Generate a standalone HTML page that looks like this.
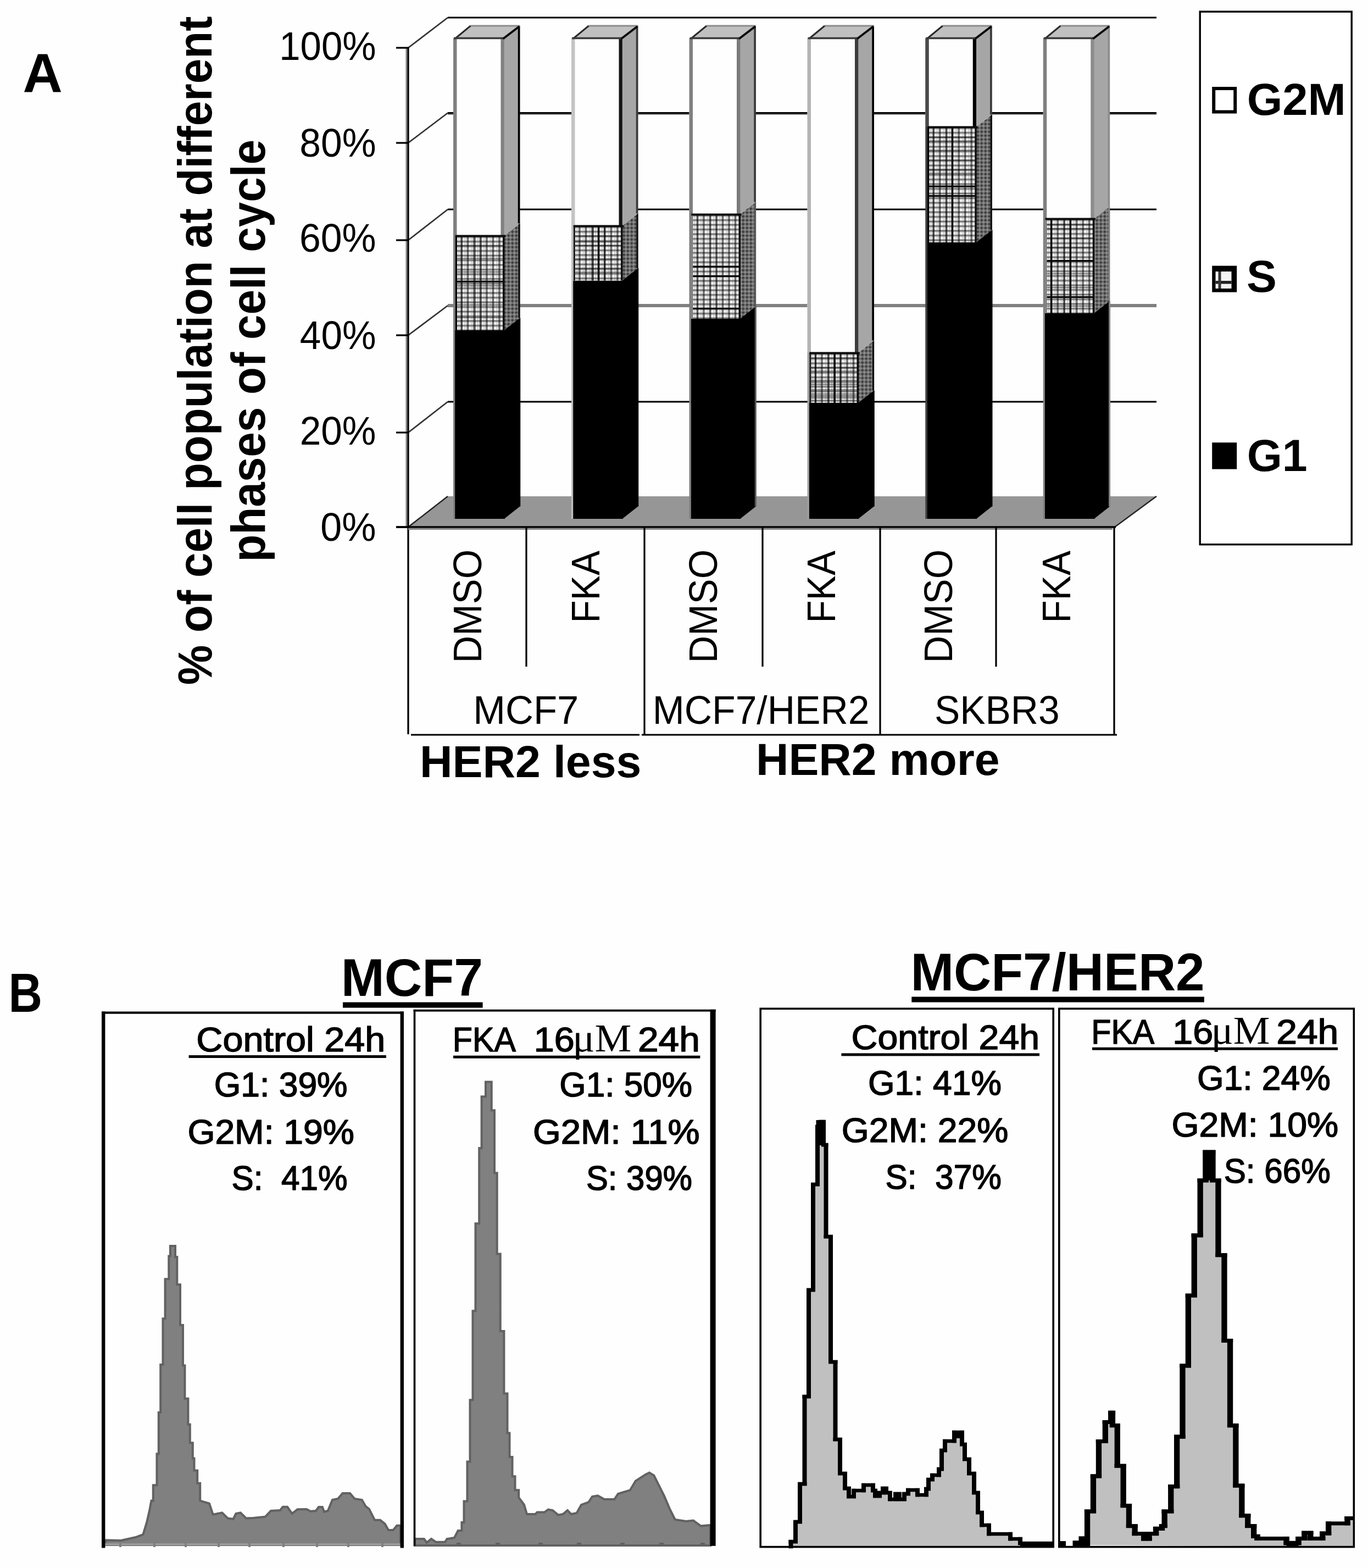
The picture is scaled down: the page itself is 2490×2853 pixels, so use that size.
<!DOCTYPE html>
<html lang="en">
<head>
<meta charset="utf-8">
<title>Cell cycle distribution</title>
<style>
html,body{margin:0;padding:0;background:#fff;}
body{width:2490px;height:2853px;overflow:hidden;}
svg{display:block;position:absolute;left:0;top:0;}
text{fill:#000;}
</style>
</head>
<body>
<svg width="2490" height="2853" viewBox="0 0 2490 2853">
<rect width="2490" height="2853" fill="#fefefe"/>
<defs>
<pattern id="pS" width="11.5" height="8.5" patternUnits="userSpaceOnUse">
<rect width="11.5" height="8.5" fill="#fff"/>
<rect x="0" y="0" width="11.5" height="4.4" fill="#000" fill-opacity="0.27"/>
<rect x="0" y="1" width="11.5" height="2" fill="#000" fill-opacity="0.36"/>
<rect x="8" y="4.4" width="3.5" height="4.1" fill="#000" fill-opacity="0.08"/>
<rect x="0" y="0" width="4.8" height="8.5" fill="#000" fill-opacity="0.26"/>
<rect x="1.4" y="0" width="2.2" height="8.5" fill="#000" fill-opacity="0.5"/>
<rect x="8" y="0" width="1.4" height="8.5" fill="#000" fill-opacity="0.14"/>
</pattern>
<pattern id="pD" width="7" height="7" patternUnits="userSpaceOnUse">
<rect width="7" height="7" fill="#6e6e6e"/>
<rect x="0" y="0" width="3.5" height="3.5" fill="#3c3c3c"/>
<rect x="3.5" y="3.5" width="3.5" height="3.5" fill="#8e8e8e"/>
</pattern>
</defs>
<line x1="815" y1="32" x2="2105" y2="32" stroke="#000" stroke-width="3.2"/>
<line x1="815" y1="205.5" x2="2105" y2="205.5" stroke="#000" stroke-width="3.2"/>
<line x1="815" y1="208.1" x2="2105" y2="208.1" stroke="#808080" stroke-width="2"/>
<line x1="815" y1="381" x2="2105" y2="381" stroke="#000" stroke-width="3.2"/>
<line x1="815" y1="556" x2="2105" y2="556" stroke="#808080" stroke-width="6"/>
<line x1="815" y1="731" x2="2105" y2="731" stroke="#000" stroke-width="3.2"/>
<line x1="743" y1="87" x2="815" y2="32" stroke="#333" stroke-width="2.7"/>
<line x1="743" y1="260" x2="815" y2="205.5" stroke="#333" stroke-width="2.7"/>
<line x1="743" y1="437" x2="815" y2="381" stroke="#333" stroke-width="2.7"/>
<line x1="743" y1="610" x2="815" y2="556" stroke="#333" stroke-width="2.7"/>
<line x1="743" y1="787" x2="815" y2="731" stroke="#333" stroke-width="2.7"/>
<polygon points="743,959 815,903 2105,903 2029,959" fill="#969696"/>
<line x1="743" y1="959" x2="815" y2="903" stroke="#222" stroke-width="2.5"/>
<line x1="2029" y1="959" x2="2105" y2="903" stroke="#222" stroke-width="2.5"/>
<line x1="740" y1="86" x2="740" y2="958" stroke="#808080" stroke-width="3"/>
<line x1="743" y1="86" x2="743" y2="1336" stroke="#000" stroke-width="3.2"/>
<line x1="721" y1="87" x2="744" y2="87" stroke="#000" stroke-width="3.2"/>
<line x1="721" y1="260" x2="744" y2="260" stroke="#000" stroke-width="3.2"/>
<line x1="721" y1="437" x2="744" y2="437" stroke="#000" stroke-width="3.2"/>
<line x1="721" y1="610" x2="744" y2="610" stroke="#000" stroke-width="3.2"/>
<line x1="721" y1="787" x2="744" y2="787" stroke="#000" stroke-width="3.2"/>
<line x1="721" y1="959" x2="744" y2="959" stroke="#000" stroke-width="3.2"/>
<rect x="828" y="601" width="90.75" height="343" fill="#000"/>
<polygon points="917.15,600.5 946.25,577.5 946.25,921.5 917.15,944.5" fill="#000"/>
<rect x="825" y="601" width="3.2" height="343" fill="#808080"/>
<rect x="944.25" y="578.5" width="3" height="343" fill="#000"/>
<g transform="translate(826,429)"><rect x="3" y="0" width="89.35" height="172" fill="url(#pS)"/></g>
<rect x="830.0" y="510.7" width="86.8" height="3.2" fill="#080808"/>
<rect x="830.0" y="445.5" width="86.8" height="2.6" fill="#000" fill-opacity="0.42"/>
<rect x="830.0" y="469.1" width="86.8" height="2.6" fill="#000" fill-opacity="0.42"/>
<rect x="830.0" y="493.6" width="86.8" height="2.6" fill="#000" fill-opacity="0.42"/>
<rect x="830.0" y="518.7" width="86.8" height="2.6" fill="#000" fill-opacity="0.42"/>
<rect x="830.0" y="553.5" width="86.8" height="2.6" fill="#000" fill-opacity="0.42"/>
<rect x="830.0" y="576.5" width="86.8" height="2.6" fill="#000" fill-opacity="0.42"/>
<rect x="839.4" y="429.0" width="2.6" height="172.0" fill="#000" fill-opacity="0.42"/>
<rect x="863.4" y="429.0" width="2.6" height="172.0" fill="#000" fill-opacity="0.42"/>
<rect x="874.2" y="429.0" width="2.6" height="172.0" fill="#000" fill-opacity="0.42"/>
<polygon points="917.15,429.5 946.25,406.5 946.25,578.5 917.15,601.5" fill="url(#pD)"/>
<rect x="825" y="429" width="4" height="172" fill="#808080"/>
<rect x="828.8" y="429" width="3.2" height="172" fill="#000"/>
<rect x="915.1" y="429" width="3.4" height="172" fill="#0c0c0c"/>
<rect x="943.25" y="406.5" width="3.4" height="172" fill="#101010"/>
<rect x="825" y="69.5" width="92.75" height="359.5" fill="#fefefe"/>
<polygon points="917.15,70.0 946.25,47.0 946.25,406.5 917.15,429.5" fill="#a6a6a6"/>
<rect x="825" y="69.5" width="6.5" height="359.5" fill="#808080"/>
<rect x="911.5" y="69.5" width="6.25" height="359.5" fill="#808080"/>
<rect x="942.75" y="47.0" width="3.7" height="359.5" fill="#000"/>
<rect x="828.8" y="427.5" width="91.35" height="3.8" fill="#0c0c0c"/>
<polygon points="828,69.5 856.5,47.0 946.25,47.0 916.75,69.5" fill="#c0c0c0"/>
<line x1="856.5" y1="47.0" x2="946.25" y2="47.0" stroke="#8c8c8c" stroke-width="3"/>
<line x1="828" y1="70.5" x2="856.5" y2="47.0" stroke="#2a2a2a" stroke-width="3"/>
<line x1="826" y1="69.5" x2="917.75" y2="69.5" stroke="#3a3a3a" stroke-width="3.6"/>
<line x1="915.75" y1="70.5" x2="945.25" y2="48.0" stroke="#0a0a0a" stroke-width="4"/>
<rect x="1043" y="510.5" width="90.75" height="433.5" fill="#000"/>
<polygon points="1132.15,510.0 1161.25,487.0 1161.25,921.5 1132.15,944.5" fill="#000"/>
<rect x="1040" y="510.5" width="3.2" height="433.5" fill="#c0c0c0"/>
<rect x="1159.25" y="488.0" width="3" height="433.5" fill="#000"/>
<g transform="translate(1041,411)"><rect x="3" y="0" width="89.35" height="99.5" fill="url(#pS)"/></g>
<rect x="1045.0" y="428.0" width="86.8" height="2.6" fill="#000" fill-opacity="0.42"/>
<rect x="1045.0" y="438.7" width="86.8" height="2.6" fill="#000" fill-opacity="0.42"/>
<rect x="1045.0" y="445.8" width="86.8" height="2.6" fill="#000" fill-opacity="0.42"/>
<rect x="1045.0" y="470.0" width="86.8" height="2.6" fill="#000" fill-opacity="0.42"/>
<rect x="1045.0" y="486.9" width="86.8" height="2.6" fill="#000" fill-opacity="0.42"/>
<rect x="1045.0" y="494.1" width="86.8" height="2.6" fill="#000" fill-opacity="0.42"/>
<rect x="1078.1" y="411.0" width="2.6" height="99.5" fill="#000" fill-opacity="0.63"/>
<rect x="1088.0" y="411.0" width="3.2" height="99.5" fill="#080808"/>
<rect x="1099.1" y="411.0" width="2.6" height="99.5" fill="#000" fill-opacity="0.63"/>
<polygon points="1132.15,411.5 1161.25,388.5 1161.25,488.0 1132.15,511.0" fill="url(#pD)"/>
<rect x="1040" y="411" width="4" height="99.5" fill="#c0c0c0"/>
<rect x="1043.8" y="411" width="3.2" height="99.5" fill="#222"/>
<rect x="1130.1" y="411" width="3.4" height="99.5" fill="#0c0c0c"/>
<rect x="1158.25" y="388.5" width="3.4" height="99.5" fill="#101010"/>
<rect x="1040" y="69.5" width="92.75" height="341.5" fill="#fefefe"/>
<polygon points="1132.15,70.0 1161.25,47.0 1161.25,388.5 1132.15,411.5" fill="#a6a6a6"/>
<rect x="1040" y="69.5" width="6.5" height="341.5" fill="#c4c4c4"/>
<rect x="1126.5" y="69.5" width="6.25" height="341.5" fill="#141414"/>
<rect x="1157.75" y="47.0" width="3.7" height="341.5" fill="#3a3a3a"/>
<rect x="1043.8" y="409.5" width="91.35" height="3.8" fill="#0c0c0c"/>
<polygon points="1043,69.5 1071.5,47.0 1161.25,47.0 1131.75,69.5" fill="#c0c0c0"/>
<line x1="1071.5" y1="47.0" x2="1161.25" y2="47.0" stroke="#8c8c8c" stroke-width="3"/>
<line x1="1043" y1="70.5" x2="1071.5" y2="47.0" stroke="#2a2a2a" stroke-width="3"/>
<line x1="1041" y1="69.5" x2="1132.75" y2="69.5" stroke="#3a3a3a" stroke-width="3.6"/>
<line x1="1130.75" y1="70.5" x2="1160.25" y2="48.0" stroke="#0a0a0a" stroke-width="4"/>
<rect x="1257.5" y="580" width="90.75" height="364" fill="#000"/>
<polygon points="1346.65,579.5 1375.75,556.5 1375.75,921.5 1346.65,944.5" fill="#000"/>
<rect x="1254.5" y="580" width="3.2" height="364" fill="#808080"/>
<rect x="1373.75" y="557.5" width="3" height="364" fill="#585858"/>
<g transform="translate(1255.5,390)"><rect x="3" y="0" width="89.35" height="190" fill="url(#pS)"/></g>
<rect x="1259.5" y="483.6" width="86.8" height="3.2" fill="#080808"/>
<rect x="1259.5" y="500.9" width="86.8" height="3.2" fill="#080808"/>
<rect x="1259.5" y="559.8" width="86.8" height="3.2" fill="#080808"/>
<rect x="1268.4" y="390.0" width="2.6" height="190.0" fill="#000" fill-opacity="0.25"/>
<rect x="1292.0" y="390.0" width="2.6" height="190.0" fill="#000" fill-opacity="0.25"/>
<rect x="1303.2" y="390.0" width="2.6" height="190.0" fill="#000" fill-opacity="0.25"/>
<polygon points="1346.65,390.5 1375.75,367.5 1375.75,557.5 1346.65,580.5" fill="url(#pD)"/>
<rect x="1254.5" y="390" width="4" height="190" fill="#808080"/>
<rect x="1258.3" y="390" width="3.2" height="190" fill="#808080"/>
<rect x="1344.6" y="390" width="3.4" height="190" fill="#0c0c0c"/>
<rect x="1372.75" y="367.5" width="3.4" height="190" fill="#585858"/>
<rect x="1254.5" y="69.5" width="92.75" height="320.5" fill="#fefefe"/>
<polygon points="1346.65,70.0 1375.75,47.0 1375.75,367.5 1346.65,390.5" fill="#a6a6a6"/>
<rect x="1254.5" y="69.5" width="6.5" height="320.5" fill="#808080"/>
<rect x="1341.0" y="69.5" width="6.25" height="320.5" fill="#7a7a7a"/>
<rect x="1372.25" y="47.0" width="3.7" height="320.5" fill="#3a3a3a"/>
<rect x="1258.3" y="388.5" width="91.35" height="3.8" fill="#0c0c0c"/>
<polygon points="1257.5,69.5 1286.0,47.0 1375.75,47.0 1346.25,69.5" fill="#c0c0c0"/>
<line x1="1286.0" y1="47.0" x2="1375.75" y2="47.0" stroke="#8c8c8c" stroke-width="3"/>
<line x1="1257.5" y1="70.5" x2="1286.0" y2="47.0" stroke="#2a2a2a" stroke-width="3"/>
<line x1="1255.5" y1="69.5" x2="1347.25" y2="69.5" stroke="#3a3a3a" stroke-width="3.6"/>
<line x1="1345.25" y1="70.5" x2="1374.75" y2="48.0" stroke="#0a0a0a" stroke-width="4"/>
<rect x="1472.5" y="733" width="90.75" height="211" fill="#000"/>
<polygon points="1561.65,732.5 1590.75,709.5 1590.75,921.5 1561.65,944.5" fill="#000"/>
<rect x="1469.5" y="733" width="3.2" height="211" fill="#a0a0a0"/>
<rect x="1588.75" y="710.5" width="3" height="211" fill="#000"/>
<g transform="translate(1470.5,642)"><rect x="3" y="0" width="89.35" height="91" fill="url(#pS)"/></g>
<rect x="1474.5" y="650.0" width="86.8" height="2.6" fill="#000" fill-opacity="0.42"/>
<rect x="1474.5" y="667.4" width="86.8" height="2.6" fill="#000" fill-opacity="0.42"/>
<rect x="1474.5" y="674.1" width="86.8" height="2.6" fill="#000" fill-opacity="0.42"/>
<rect x="1474.5" y="691.0" width="86.8" height="2.6" fill="#000" fill-opacity="0.42"/>
<rect x="1474.5" y="698.2" width="86.8" height="2.6" fill="#000" fill-opacity="0.42"/>
<rect x="1474.5" y="708.0" width="86.8" height="2.6" fill="#000" fill-opacity="0.42"/>
<rect x="1474.5" y="715.6" width="86.8" height="2.6" fill="#000" fill-opacity="0.42"/>
<rect x="1474.5" y="722.7" width="86.8" height="2.6" fill="#000" fill-opacity="0.42"/>
<rect x="1483.1" y="642.0" width="2.6" height="91.0" fill="#000" fill-opacity="0.63"/>
<rect x="1507.2" y="642.0" width="2.6" height="91.0" fill="#000" fill-opacity="0.42"/>
<rect x="1517.6" y="642.0" width="3.2" height="91.0" fill="#080808"/>
<rect x="1528.2" y="642.0" width="2.6" height="91.0" fill="#000" fill-opacity="0.63"/>
<polygon points="1561.65,642.5 1590.75,619.5 1590.75,710.5 1561.65,733.5" fill="url(#pD)"/>
<rect x="1469.5" y="642" width="4" height="91" fill="#a0a0a0"/>
<rect x="1473.3" y="642" width="3.2" height="91" fill="#222"/>
<rect x="1559.6" y="642" width="3.4" height="91" fill="#0c0c0c"/>
<rect x="1587.75" y="619.5" width="3.4" height="91" fill="#101010"/>
<rect x="1469.5" y="69.5" width="92.75" height="572.5" fill="#fefefe"/>
<polygon points="1561.65,70.0 1590.75,47.0 1590.75,619.5 1561.65,642.5" fill="#a6a6a6"/>
<rect x="1469.5" y="69.5" width="6.5" height="572.5" fill="#b4b4b4"/>
<rect x="1556.0" y="69.5" width="6.25" height="572.5" fill="#3c3c3c"/>
<rect x="1587.25" y="47.0" width="3.7" height="572.5" fill="#000"/>
<rect x="1473.3" y="640.5" width="91.35" height="3.8" fill="#0c0c0c"/>
<polygon points="1472.5,69.5 1501.0,47.0 1590.75,47.0 1561.25,69.5" fill="#c0c0c0"/>
<line x1="1501.0" y1="47.0" x2="1590.75" y2="47.0" stroke="#8c8c8c" stroke-width="3"/>
<line x1="1472.5" y1="70.5" x2="1501.0" y2="47.0" stroke="#2a2a2a" stroke-width="3"/>
<line x1="1470.5" y1="69.5" x2="1562.25" y2="69.5" stroke="#3a3a3a" stroke-width="3.6"/>
<line x1="1560.25" y1="70.5" x2="1589.75" y2="48.0" stroke="#0a0a0a" stroke-width="4"/>
<rect x="1687.25" y="441" width="90.75" height="503" fill="#000"/>
<polygon points="1776.4,440.5 1805.5,417.5 1805.5,921.5 1776.4,944.5" fill="#000"/>
<rect x="1684.25" y="441" width="3.2" height="503" fill="#404040"/>
<rect x="1803.5" y="418.5" width="3" height="503" fill="#000"/>
<g transform="translate(1685.25,231)"><rect x="3" y="0" width="89.35" height="210" fill="url(#pS)"/></g>
<rect x="1689.2" y="337.6" width="86.8" height="3.2" fill="#080808"/>
<rect x="1689.2" y="355.0" width="86.8" height="3.2" fill="#080808"/>
<rect x="1689.2" y="290.1" width="86.8" height="2.6" fill="#000" fill-opacity="0.42"/>
<rect x="1689.2" y="248.2" width="86.8" height="2.6" fill="#000" fill-opacity="0.42"/>
<rect x="1689.2" y="255.3" width="86.8" height="2.6" fill="#000" fill-opacity="0.42"/>
<rect x="1689.2" y="272.3" width="86.8" height="2.6" fill="#000" fill-opacity="0.42"/>
<rect x="1689.2" y="307.0" width="86.8" height="2.6" fill="#000" fill-opacity="0.42"/>
<rect x="1689.2" y="314.1" width="86.8" height="2.6" fill="#000" fill-opacity="0.42"/>
<rect x="1697.8" y="231.0" width="2.6" height="210.0" fill="#000" fill-opacity="0.42"/>
<rect x="1721.9" y="231.0" width="2.6" height="210.0" fill="#000" fill-opacity="0.42"/>
<rect x="1731.8" y="231.0" width="3.2" height="210.0" fill="#080808"/>
<polygon points="1776.4,231.5 1805.5,208.5 1805.5,418.5 1776.4,441.5" fill="url(#pD)"/>
<rect x="1684.25" y="231" width="4" height="210" fill="#404040"/>
<rect x="1688.05" y="231" width="3.2" height="210" fill="#000"/>
<rect x="1774.35" y="231" width="3.4" height="210" fill="#0c0c0c"/>
<rect x="1802.5" y="208.5" width="3.4" height="210" fill="#101010"/>
<rect x="1684.25" y="69.5" width="92.75" height="161.5" fill="#fefefe"/>
<polygon points="1776.4,70.0 1805.5,47.0 1805.5,208.5 1776.4,231.5" fill="#a6a6a6"/>
<rect x="1684.25" y="69.5" width="6.5" height="161.5" fill="#4a4a4a"/>
<rect x="1770.75" y="69.5" width="6.25" height="161.5" fill="#000"/>
<rect x="1802.0" y="47.0" width="3.7" height="161.5" fill="#3a3a3a"/>
<rect x="1688.05" y="229.5" width="91.35" height="3.8" fill="#0c0c0c"/>
<polygon points="1687.25,69.5 1715.75,47.0 1805.5,47.0 1776.0,69.5" fill="#c0c0c0"/>
<line x1="1715.75" y1="47.0" x2="1805.5" y2="47.0" stroke="#8c8c8c" stroke-width="3"/>
<line x1="1687.25" y1="70.5" x2="1715.75" y2="47.0" stroke="#2a2a2a" stroke-width="3"/>
<line x1="1685.25" y1="69.5" x2="1777.0" y2="69.5" stroke="#3a3a3a" stroke-width="3.6"/>
<line x1="1775.0" y1="70.5" x2="1804.5" y2="48.0" stroke="#0a0a0a" stroke-width="4"/>
<rect x="1901.75" y="570" width="90.75" height="374" fill="#000"/>
<polygon points="1990.9,569.5 2020.0,546.5 2020.0,921.5 1990.9,944.5" fill="#000"/>
<rect x="1898.75" y="570" width="3.2" height="374" fill="#808080"/>
<rect x="2018.0" y="547.5" width="3" height="374" fill="#808080"/>
<g transform="translate(1899.75,398)"><rect x="3" y="0" width="89.35" height="172" fill="url(#pS)"/></g>
<rect x="1903.8" y="473.0" width="86.8" height="3.2" fill="#080808"/>
<rect x="1903.8" y="539.0" width="86.8" height="3.2" fill="#080808"/>
<rect x="1903.8" y="431.9" width="86.8" height="2.6" fill="#000" fill-opacity="0.42"/>
<rect x="1903.8" y="521.9" width="86.8" height="2.6" fill="#000" fill-opacity="0.42"/>
<rect x="1903.8" y="407.7" width="86.8" height="2.6" fill="#000" fill-opacity="0.42"/>
<rect x="1903.8" y="414.7" width="86.8" height="2.6" fill="#000" fill-opacity="0.42"/>
<rect x="1903.8" y="448.7" width="86.8" height="2.6" fill="#000" fill-opacity="0.42"/>
<rect x="1903.8" y="496.7" width="86.8" height="2.6" fill="#000" fill-opacity="0.42"/>
<rect x="1903.8" y="555.7" width="86.8" height="2.6" fill="#000" fill-opacity="0.42"/>
<rect x="1912.0" y="398.0" width="3.2" height="172.0" fill="#080808"/>
<rect x="1936.5" y="398.0" width="2.6" height="172.0" fill="#000" fill-opacity="0.42"/>
<rect x="1946.8" y="398.0" width="3.2" height="172.0" fill="#080808"/>
<polygon points="1990.9,398.5 2020.0,375.5 2020.0,547.5 1990.9,570.5" fill="url(#pD)"/>
<rect x="1898.75" y="398" width="4" height="172" fill="#808080"/>
<rect x="1902.55" y="398" width="3.2" height="172" fill="#808080"/>
<rect x="1988.85" y="398" width="3.4" height="172" fill="#0c0c0c"/>
<rect x="2017.0" y="375.5" width="3.4" height="172" fill="#808080"/>
<rect x="1898.75" y="69.5" width="92.75" height="328.5" fill="#fefefe"/>
<polygon points="1990.9,70.0 2020.0,47.0 2020.0,375.5 1990.9,398.5" fill="#a6a6a6"/>
<rect x="1898.75" y="69.5" width="6.5" height="328.5" fill="#808080"/>
<rect x="1985.25" y="69.5" width="6.25" height="328.5" fill="#8c8c8c"/>
<rect x="2016.5" y="47.0" width="3.7" height="328.5" fill="#8c8c8c"/>
<rect x="1902.55" y="396.5" width="91.35" height="3.8" fill="#0c0c0c"/>
<polygon points="1901.75,69.5 1930.25,47.0 2020.0,47.0 1990.5,69.5" fill="#c0c0c0"/>
<line x1="1930.25" y1="47.0" x2="2020.0" y2="47.0" stroke="#8c8c8c" stroke-width="3"/>
<line x1="1901.75" y1="70.5" x2="1930.25" y2="47.0" stroke="#2a2a2a" stroke-width="3"/>
<line x1="1899.75" y1="69.5" x2="1991.5" y2="69.5" stroke="#3a3a3a" stroke-width="3.6"/>
<line x1="1989.5" y1="70.5" x2="2019.0" y2="48.0" stroke="#0a0a0a" stroke-width="4"/>
<line x1="721" y1="959" x2="2031" y2="959" stroke="#000" stroke-width="3.4"/>
<line x1="743" y1="962.5" x2="2025" y2="962.5" stroke="#8a8a8a" stroke-width="3"/>
<line x1="958" y1="959" x2="958" y2="1213" stroke="#000" stroke-width="3.2"/>
<line x1="1173" y1="959" x2="1173" y2="1336" stroke="#000" stroke-width="3.2"/>
<line x1="1388" y1="959" x2="1388" y2="1213" stroke="#000" stroke-width="3.2"/>
<line x1="1602" y1="959" x2="1602" y2="1336" stroke="#000" stroke-width="3.2"/>
<line x1="1813" y1="959" x2="1813" y2="1213" stroke="#000" stroke-width="3.2"/>
<line x1="2028" y1="959" x2="2028" y2="1336" stroke="#000" stroke-width="3.2"/>
<line x1="748" y1="1337" x2="1164" y2="1337" stroke="#000" stroke-width="3.2"/>
<line x1="1168" y1="1337" x2="2033" y2="1337" stroke="#000" stroke-width="3.2"/>
<text transform="translate(508.23,109.10) scale(0.9511,1)" font-family="'Liberation Sans', Arial, Helvetica, sans-serif" font-size="72.5" xml:space="preserve">100%</text>
<text transform="translate(545.27,285.00) scale(0.9598,1)" font-family="'Liberation Sans', Arial, Helvetica, sans-serif" font-size="72.5" xml:space="preserve">80%</text>
<text transform="translate(544.91,458.30) scale(0.9623,1)" font-family="'Liberation Sans', Arial, Helvetica, sans-serif" font-size="72.5" xml:space="preserve">60%</text>
<text transform="translate(545.87,634.80) scale(0.9556,1)" font-family="'Liberation Sans', Arial, Helvetica, sans-serif" font-size="72.5" xml:space="preserve">40%</text>
<text transform="translate(545.73,808.50) scale(0.9565,1)" font-family="'Liberation Sans', Arial, Helvetica, sans-serif" font-size="72.5" xml:space="preserve">20%</text>
<text transform="translate(583.20,984.30) scale(0.9665,1)" font-family="'Liberation Sans', Arial, Helvetica, sans-serif" font-size="72.5" xml:space="preserve">0%</text>
<text transform="translate(876.10,1206.52) rotate(-90) scale(0.9451,1)" font-family="'Liberation Sans', Arial, Helvetica, sans-serif" font-size="73" xml:space="preserve">DMSO</text>
<text transform="translate(1091.00,1133.41) rotate(-90) scale(0.9258,1)" font-family="'Liberation Sans', Arial, Helvetica, sans-serif" font-size="73" xml:space="preserve">FKA</text>
<text transform="translate(1305.20,1206.52) rotate(-90) scale(0.9451,1)" font-family="'Liberation Sans', Arial, Helvetica, sans-serif" font-size="73" xml:space="preserve">DMSO</text>
<text transform="translate(1519.50,1133.41) rotate(-90) scale(0.9258,1)" font-family="'Liberation Sans', Arial, Helvetica, sans-serif" font-size="73" xml:space="preserve">FKA</text>
<text transform="translate(1733.30,1206.52) rotate(-90) scale(0.9451,1)" font-family="'Liberation Sans', Arial, Helvetica, sans-serif" font-size="73" xml:space="preserve">DMSO</text>
<text transform="translate(1948.20,1133.41) rotate(-90) scale(0.9258,1)" font-family="'Liberation Sans', Arial, Helvetica, sans-serif" font-size="73" xml:space="preserve">FKA</text>
<text transform="translate(861.36,1317.40) scale(0.9663,1)" font-family="'Liberation Sans', Arial, Helvetica, sans-serif" font-size="73" xml:space="preserve">MCF7</text>
<text transform="translate(1187.83,1317.40) scale(0.9538,1)" font-family="'Liberation Sans', Arial, Helvetica, sans-serif" font-size="73" xml:space="preserve">MCF7/HER2</text>
<text transform="translate(1700.88,1317.40) scale(0.9512,1)" font-family="'Liberation Sans', Arial, Helvetica, sans-serif" font-size="73" xml:space="preserve">SKBR3</text>
<text transform="translate(763.94,1414.20) scale(1.0099,1)" font-family="'Liberation Sans', Arial, Helvetica, sans-serif" font-size="81.7" font-weight="bold" xml:space="preserve">HER2 less</text>
<text transform="translate(1376.05,1410.20) scale(1.0072,1)" font-family="'Liberation Sans', Arial, Helvetica, sans-serif" font-size="81.7" font-weight="bold" xml:space="preserve">HER2 more</text>
<text transform="translate(384.70,1246.24) rotate(-90) scale(0.9288,1)" font-family="'Liberation Sans', Arial, Helvetica, sans-serif" font-size="88" font-weight="bold" xml:space="preserve">% of cell population at different</text>
<text transform="translate(482.00,1022.62) rotate(-90) scale(0.9298,1)" font-family="'Liberation Sans', Arial, Helvetica, sans-serif" font-size="88" font-weight="bold" xml:space="preserve">phases of cell cycle</text>
<text transform="translate(41.60,168.10) scale(1.0050,1)" font-family="'Liberation Sans', Arial, Helvetica, sans-serif" font-size="99.5" font-weight="bold" xml:space="preserve">A</text>
<rect x="2184.2" y="21.2" width="276" height="969.5" fill="#fff" stroke="#000" stroke-width="3.4"/>
<rect x="2209.2" y="161" width="39" height="42.5" fill="#fff" stroke="#000" stroke-width="6"/>
<rect x="2206.2" y="483.6" width="45" height="48" fill="#000"/>
<rect x="2212.5" y="494" width="29" height="31" fill="#f4f4f4"/>
<rect x="2212.5" y="511" width="29" height="5.5" fill="#222"/>
<rect x="2217.5" y="494" width="5" height="31" fill="#333"/>
<rect x="2206.2" y="805.2" width="45" height="48.4" fill="#000"/>
<text transform="translate(2269.68,209.00) scale(1.0074,1)" font-family="'Liberation Sans', Arial, Helvetica, sans-serif" font-size="82.4" font-weight="bold" xml:space="preserve">G2M</text>
<text transform="translate(2269.03,531.00) scale(0.9972,1)" font-family="'Liberation Sans', Arial, Helvetica, sans-serif" font-size="82.4" font-weight="bold" xml:space="preserve">S</text>
<text transform="translate(2269.70,856.50) scale(1.0000,1)" font-family="'Liberation Sans', Arial, Helvetica, sans-serif" font-size="82.4" font-weight="bold" xml:space="preserve">G1</text>
<text transform="translate(15.57,1840.50) scale(0.8466,1)" font-family="'Liberation Sans', Arial, Helvetica, sans-serif" font-size="100.5" font-weight="bold" xml:space="preserve">B</text>
<text transform="translate(620.63,1811.50) scale(0.9815,1)" font-family="'Liberation Sans', Arial, Helvetica, sans-serif" font-size="96.7" font-weight="bold" xml:space="preserve">MCF7</text>
<rect x="624" y="1823.6" width="254.6" height="10" fill="#000"/>
<text transform="translate(1657.46,1801.50) scale(0.9765,1)" font-family="'Liberation Sans', Arial, Helvetica, sans-serif" font-size="96.7" font-weight="bold" xml:space="preserve">MCF7/HER2</text>
<rect x="1659.3" y="1813.6" width="532.5" height="10" fill="#000"/>
<polygon points="191.8,2811 191.8,2802.4 220,2803 247,2797 260.4,2792 267,2770.6 272,2749 275.5,2730.6 278.8,2730.6 278.8,2702.2 285.5,2702.2 285.5,2645.3 288.8,2645.3 288.8,2569.9 292.2,2569.9 292.2,2482.9 296.5,2482.9 296.5,2399.2 300.6,2399.2 300.6,2327.2 307.3,2327.2 307.3,2285.4 309.9,2285.4 309.9,2267.0 319.0,2267.0 319.0,2287.0 322.3,2287.0 322.3,2337.3 328.0,2337.3 328.0,2410.9 333.0,2410.9 333.0,2484.6 336.4,2484.6 336.4,2544.8 342.4,2544.8 342.4,2591.7 345.8,2591.7 345.8,2625.2 350.8,2625.2 350.8,2653.6 353.5,2653.6 353.5,2675.4 359.2,2675.4 359.2,2698.8 364.2,2698.8 364.2,2730.6 381,2735.6 387.6,2755.7 404.3,2752.4 414.4,2762.4 424.4,2764 429.5,2754 437.8,2752.4 447.9,2762.4 461,2762 483,2759.7 493,2749 509.8,2748 514.8,2741.7 523,2741.7 531.5,2754 541.6,2746.3 558,2746 565,2749.7 575,2749 580,2742 586.8,2742 590,2750.7 596.8,2749 605,2729 615,2727 623.6,2717 637,2717 645.4,2727 658.8,2729 665.5,2740.7 672,2745.7 682,2765.8 692,2765.8 700.6,2772.5 707,2784 715.7,2784 722.4,2775.8 729,2775.8 729,2811" fill="#808080" stroke="#626262" stroke-width="4" stroke-linejoin="miter"/>
<rect x="188" y="2808" width="544" height="4" fill="#9a9a9a"/>
<rect x="217" y="2808" width="4" height="7" fill="#808080"/>
<rect x="279" y="2808" width="4" height="7" fill="#808080"/>
<rect x="336" y="2808" width="4" height="7" fill="#808080"/>
<rect x="396" y="2808" width="4" height="7" fill="#808080"/>
<rect x="452" y="2808" width="4" height="7" fill="#808080"/>
<rect x="514" y="2808" width="4" height="7" fill="#808080"/>
<rect x="575" y="2808" width="4" height="7" fill="#808080"/>
<rect x="632" y="2808" width="4" height="7" fill="#808080"/>
<rect x="694" y="2808" width="4" height="7" fill="#808080"/>
<rect x="185" y="1840.5" width="6.4" height="976" fill="#000"/>
<rect x="728.6" y="1840.5" width="6.4" height="976" fill="#000"/>
<rect x="185" y="1840.5" width="550" height="4.2" fill="#000"/>
<text transform="translate(357.37,1912.90) scale(1.0577,1)" font-family="'Liberation Sans', Arial, Helvetica, sans-serif" font-size="62.9" stroke="#000" stroke-width="1.5" stroke-linejoin="round" xml:space="preserve">Control 24h</text>
<rect x="343.6" y="1920" width="359.3" height="5" fill="#000"/>
<text transform="translate(389.78,1995.00) scale(0.9923,1)" font-family="'Liberation Sans', Arial, Helvetica, sans-serif" font-size="62.9" stroke="#000" stroke-width="1.5" stroke-linejoin="round" xml:space="preserve">G1: 39%</text>
<text transform="translate(341.39,2081.40) scale(1.0221,1)" font-family="'Liberation Sans', Arial, Helvetica, sans-serif" font-size="62.9" stroke="#000" stroke-width="1.5" stroke-linejoin="round" xml:space="preserve">G2M: 19%</text>
<text transform="translate(421.59,2165.40) scale(0.9581,1)" font-family="'Liberation Sans', Arial, Helvetica, sans-serif" font-size="62.9" stroke="#000" stroke-width="1.5" stroke-linejoin="round" xml:space="preserve">S:  41%</text>
<polygon points="755,2812 755,2800 771.8,2800 776.8,2806.8 785,2800 793.6,2805.8 810,2805.8 813.6,2800 827,2798 833.7,2785 840.4,2785.0 840.4,2769.9 844.5,2769.9 844.5,2731.4 850.5,2731.4 850.5,2659.5 855.5,2659.5 855.5,2547.3 860.5,2547.3 860.5,2385.3 865.5,2385.3 865.5,2226.2 872.2,2226.2 872.2,2089.0 876.6,2089.0 876.6,1995.2 884.0,1995.2 884.0,1968.5 894.7,1968.5 894.7,2020.3 900.0,2020.3 900.0,2134.2 904.7,2134.2 904.7,2281.5 910.7,2281.5 910.7,2422.1 917.4,2422.1 917.4,2535.6 923.5,2535.6 923.5,2607.6 927.5,2607.6 927.5,2651.1 932.5,2651.1 932.5,2686.2 937.5,2686.2 937.5,2711.3 944.2,2711.3 944.2,2724.7 954,2738 959,2755 974.4,2755 977.7,2751.5 991,2751.5 997.8,2746.5 1006,2748 1016,2756.5 1024.6,2755 1033,2748 1039.6,2755 1049.7,2753 1058,2738 1071.4,2733 1078,2723 1088,2721.4 1100,2728 1118.3,2728 1125,2718 1146.8,2711.4 1156.8,2694.6 1175,2683 1182,2679.5 1190.3,2684.6 1200.3,2704.7 1208.7,2721.4 1218.7,2744.8 1228.8,2765 1248.9,2768 1262,2766.6 1275.7,2776.6 1293,2775 1293,2812" fill="#808080" stroke="#626262" stroke-width="4" stroke-linejoin="miter"/>
<rect x="831" y="2807" width="8" height="4" fill="#606060"/>
<rect x="902" y="2807" width="8" height="4" fill="#606060"/>
<rect x="980" y="2807" width="8" height="4" fill="#606060"/>
<rect x="1050" y="2807" width="8" height="4" fill="#606060"/>
<rect x="1129" y="2807" width="8" height="4" fill="#606060"/>
<rect x="1200" y="2807" width="8" height="4" fill="#606060"/>
<rect x="1275" y="2807" width="8" height="4" fill="#606060"/>
<rect x="752.7" y="1836.8" width="3.6" height="976" fill="#000"/>
<rect x="1292.6" y="1836.8" width="10" height="976" fill="#000"/>
<rect x="752.7" y="1836.8" width="550" height="3.8" fill="#000"/>
<text transform="translate(823.87,1912.90) scale(0.9402,1)" font-family="'Liberation Sans', Arial, Helvetica, sans-serif" font-size="62.9" stroke="#000" stroke-width="1.5" stroke-linejoin="round" xml:space="preserve">FKA</text>
<text transform="translate(971.82,1912.90) scale(1.0562,1)" font-family="'Liberation Sans', Arial, Helvetica, sans-serif" font-size="62.9" stroke="#000" stroke-width="1.5" stroke-linejoin="round" xml:space="preserve">16</text>
<text transform="translate(1042.19,1912.90) scale(1.0435,1)" font-family="'Liberation Serif', 'Times New Roman', serif" font-size="72" xml:space="preserve">μM</text>
<text transform="translate(1160.91,1912.90) scale(1.0766,1)" font-family="'Liberation Sans', Arial, Helvetica, sans-serif" font-size="62.9" stroke="#000" stroke-width="1.5" stroke-linejoin="round" xml:space="preserve">24h</text>
<rect x="825" y="1920.7" width="449.3" height="5" fill="#000"/>
<text transform="translate(1018.29,1995.00) scale(0.9882,1)" font-family="'Liberation Sans', Arial, Helvetica, sans-serif" font-size="62.9" stroke="#000" stroke-width="1.5" stroke-linejoin="round" xml:space="preserve">G1: 50%</text>
<text transform="translate(969.93,2081.40) scale(1.0385,1)" font-family="'Liberation Sans', Arial, Helvetica, sans-serif" font-size="62.9" stroke="#000" stroke-width="1.5" stroke-linejoin="round" xml:space="preserve">G2M: 11%</text>
<text transform="translate(1066.91,2165.40) scale(0.9519,1)" font-family="'Liberation Sans', Arial, Helvetica, sans-serif" font-size="62.9" stroke="#000" stroke-width="1.5" stroke-linejoin="round" xml:space="preserve">S: 39%</text>
<polygon points="1439.5,2814 1439.5,2805 1448,2805 1448,2769 1456,2769 1456,2700 1464.5,2700 1464.5,2541 1472,2541 1472,2347 1480,2347 1480,2155 1488,2155 1488,2050 1494,2050 1494,2041 1499,2041 1499,2083 1503.5,2083 1503.5,2250 1512,2250 1512,2478 1520.5,2478 1520.5,2619 1529,2619 1529,2681 1538,2681 1538,2708 1545,2708 1545,2723 1554,2723 1554,2712 1572,2712 1572,2702 1589,2702 1589,2712 1593,2712 1593,2722 1601,2722 1601,2716 1607,2716 1607,2708 1613,2708 1613,2716 1620,2716 1620,2728 1630,2728 1630,2718 1637,2718 1637,2728 1646,2728 1646,2718 1653,2718 1653,2711 1670,2711 1670,2720 1686,2720 1686,2709 1690,2709 1690,2692 1697,2692 1697,2684 1709,2684 1709,2673 1714,2673 1714,2639 1720,2639 1720,2622 1737,2622 1737,2606 1751,2606 1751,2628 1756,2628 1756,2655 1764,2655 1764,2681 1773,2681 1773,2716 1780,2716 1780,2752 1787,2752 1787,2775 1800,2775 1800,2791 1839,2791 1839,2800 1857,2800 1857,2808 1915,2808 1915,2814" fill="#c0c0c0"/>
<rect x="1435.5" y="2801.8" width="8.0" height="15.5" fill="#000"/>
<rect x="1435.5" y="2801.8" width="16.5" height="6.5" fill="#000"/>
<rect x="1444.0" y="2765.8" width="8.0" height="42.5" fill="#000"/>
<rect x="1444.0" y="2765.8" width="16.0" height="6.5" fill="#000"/>
<rect x="1452.0" y="2696.8" width="8.0" height="75.5" fill="#000"/>
<rect x="1452.0" y="2696.8" width="16.5" height="6.5" fill="#000"/>
<rect x="1460.5" y="2537.8" width="8.0" height="165.5" fill="#000"/>
<rect x="1460.5" y="2537.8" width="15.5" height="6.5" fill="#000"/>
<rect x="1468.0" y="2343.8" width="8.0" height="200.5" fill="#000"/>
<rect x="1468.0" y="2343.8" width="16.0" height="6.5" fill="#000"/>
<rect x="1476.0" y="2151.8" width="8.0" height="198.5" fill="#000"/>
<rect x="1476.0" y="2151.8" width="16.0" height="6.5" fill="#000"/>
<rect x="1484.0" y="2046.8" width="8.0" height="111.5" fill="#000"/>
<rect x="1484.0" y="2046.8" width="14.0" height="6.5" fill="#000"/>
<rect x="1490.0" y="2037.8" width="8.0" height="15.5" fill="#000"/>
<rect x="1490.0" y="2037.8" width="13.0" height="6.5" fill="#000"/>
<rect x="1495.0" y="2037.8" width="8.0" height="48.5" fill="#000"/>
<rect x="1495.0" y="2079.8" width="12.5" height="6.5" fill="#000"/>
<rect x="1499.5" y="2079.8" width="8.0" height="173.5" fill="#000"/>
<rect x="1499.5" y="2246.8" width="16.5" height="6.5" fill="#000"/>
<rect x="1508.0" y="2246.8" width="8.0" height="234.5" fill="#000"/>
<rect x="1508.0" y="2474.8" width="16.5" height="6.5" fill="#000"/>
<rect x="1516.5" y="2474.8" width="8.0" height="147.5" fill="#000"/>
<rect x="1516.5" y="2615.8" width="16.5" height="6.5" fill="#000"/>
<rect x="1525.0" y="2615.8" width="8.0" height="68.5" fill="#000"/>
<rect x="1525.0" y="2677.8" width="17.0" height="6.5" fill="#000"/>
<rect x="1534.0" y="2677.8" width="8.0" height="33.5" fill="#000"/>
<rect x="1534.0" y="2704.8" width="15.0" height="6.5" fill="#000"/>
<rect x="1541.0" y="2704.8" width="8.0" height="21.5" fill="#000"/>
<rect x="1541.0" y="2719.8" width="17.0" height="6.5" fill="#000"/>
<rect x="1550.0" y="2708.8" width="8.0" height="17.5" fill="#000"/>
<rect x="1550.0" y="2708.8" width="26.0" height="6.5" fill="#000"/>
<rect x="1568.0" y="2698.8" width="8.0" height="16.5" fill="#000"/>
<rect x="1568.0" y="2698.8" width="25.0" height="6.5" fill="#000"/>
<rect x="1585.0" y="2698.8" width="8.0" height="16.5" fill="#000"/>
<rect x="1585.0" y="2708.8" width="12.0" height="6.5" fill="#000"/>
<rect x="1589.0" y="2708.8" width="8.0" height="16.5" fill="#000"/>
<rect x="1589.0" y="2718.8" width="16.0" height="6.5" fill="#000"/>
<rect x="1597.0" y="2712.8" width="8.0" height="12.5" fill="#000"/>
<rect x="1597.0" y="2712.8" width="14.0" height="6.5" fill="#000"/>
<rect x="1603.0" y="2704.8" width="8.0" height="14.5" fill="#000"/>
<rect x="1603.0" y="2704.8" width="14.0" height="6.5" fill="#000"/>
<rect x="1609.0" y="2704.8" width="8.0" height="14.5" fill="#000"/>
<rect x="1609.0" y="2712.8" width="15.0" height="6.5" fill="#000"/>
<rect x="1616.0" y="2712.8" width="8.0" height="18.5" fill="#000"/>
<rect x="1616.0" y="2724.8" width="18.0" height="6.5" fill="#000"/>
<rect x="1626.0" y="2714.8" width="8.0" height="16.5" fill="#000"/>
<rect x="1626.0" y="2714.8" width="15.0" height="6.5" fill="#000"/>
<rect x="1633.0" y="2714.8" width="8.0" height="16.5" fill="#000"/>
<rect x="1633.0" y="2724.8" width="17.0" height="6.5" fill="#000"/>
<rect x="1642.0" y="2714.8" width="8.0" height="16.5" fill="#000"/>
<rect x="1642.0" y="2714.8" width="15.0" height="6.5" fill="#000"/>
<rect x="1649.0" y="2707.8" width="8.0" height="13.5" fill="#000"/>
<rect x="1649.0" y="2707.8" width="25.0" height="6.5" fill="#000"/>
<rect x="1666.0" y="2707.8" width="8.0" height="15.5" fill="#000"/>
<rect x="1666.0" y="2716.8" width="24.0" height="6.5" fill="#000"/>
<rect x="1682.0" y="2705.8" width="8.0" height="17.5" fill="#000"/>
<rect x="1682.0" y="2705.8" width="12.0" height="6.5" fill="#000"/>
<rect x="1686.0" y="2688.8" width="8.0" height="23.5" fill="#000"/>
<rect x="1686.0" y="2688.8" width="15.0" height="6.5" fill="#000"/>
<rect x="1693.0" y="2680.8" width="8.0" height="14.5" fill="#000"/>
<rect x="1693.0" y="2680.8" width="20.0" height="6.5" fill="#000"/>
<rect x="1705.0" y="2669.8" width="8.0" height="17.5" fill="#000"/>
<rect x="1705.0" y="2669.8" width="13.0" height="6.5" fill="#000"/>
<rect x="1710.0" y="2635.8" width="8.0" height="40.5" fill="#000"/>
<rect x="1710.0" y="2635.8" width="14.0" height="6.5" fill="#000"/>
<rect x="1716.0" y="2618.8" width="8.0" height="23.5" fill="#000"/>
<rect x="1716.0" y="2618.8" width="25.0" height="6.5" fill="#000"/>
<rect x="1733.0" y="2602.8" width="8.0" height="22.5" fill="#000"/>
<rect x="1733.0" y="2602.8" width="22.0" height="6.5" fill="#000"/>
<rect x="1747.0" y="2602.8" width="8.0" height="28.5" fill="#000"/>
<rect x="1747.0" y="2624.8" width="13.0" height="6.5" fill="#000"/>
<rect x="1752.0" y="2624.8" width="8.0" height="33.5" fill="#000"/>
<rect x="1752.0" y="2651.8" width="16.0" height="6.5" fill="#000"/>
<rect x="1760.0" y="2651.8" width="8.0" height="32.5" fill="#000"/>
<rect x="1760.0" y="2677.8" width="17.0" height="6.5" fill="#000"/>
<rect x="1769.0" y="2677.8" width="8.0" height="41.5" fill="#000"/>
<rect x="1769.0" y="2712.8" width="15.0" height="6.5" fill="#000"/>
<rect x="1776.0" y="2712.8" width="8.0" height="42.5" fill="#000"/>
<rect x="1776.0" y="2748.8" width="15.0" height="6.5" fill="#000"/>
<rect x="1783.0" y="2748.8" width="8.0" height="29.5" fill="#000"/>
<rect x="1783.0" y="2771.8" width="21.0" height="6.5" fill="#000"/>
<rect x="1796.0" y="2771.8" width="8.0" height="22.5" fill="#000"/>
<rect x="1796.0" y="2787.8" width="47.0" height="6.5" fill="#000"/>
<rect x="1835.0" y="2787.8" width="8.0" height="15.5" fill="#000"/>
<rect x="1835.0" y="2796.8" width="26.0" height="6.5" fill="#000"/>
<rect x="1853.0" y="2796.8" width="8.0" height="14.5" fill="#000"/>
<rect x="1853.0" y="2804.8" width="66.0" height="6.5" fill="#000"/>
<rect x="1485.5" y="2038" width="14.5" height="46" fill="#000"/>
<rect x="1735.5" y="2603" width="17" height="14" fill="#000"/>
<rect x="1857" y="2805" width="60" height="10" fill="#000"/>
<rect x="1384.2" y="1835.3" width="533" height="979.3" fill="none" stroke="#000" stroke-width="3.6"/>
<text transform="translate(1549.59,1909.30) scale(1.0536,1)" font-family="'Liberation Sans', Arial, Helvetica, sans-serif" font-size="62.9" stroke="#000" stroke-width="1.5" stroke-linejoin="round" xml:space="preserve">Control 24h</text>
<rect x="1531.4" y="1916.4" width="360.6" height="5" fill="#000"/>
<text transform="translate(1580.08,1992.00) scale(0.9923,1)" font-family="'Liberation Sans', Arial, Helvetica, sans-serif" font-size="62.9" stroke="#000" stroke-width="1.5" stroke-linejoin="round" xml:space="preserve">G1: 41%</text>
<text transform="translate(1531.79,2078.20) scale(1.0217,1)" font-family="'Liberation Sans', Arial, Helvetica, sans-serif" font-size="62.9" stroke="#000" stroke-width="1.5" stroke-linejoin="round" xml:space="preserve">G2M: 22%</text>
<text transform="translate(1611.58,2162.90) scale(0.9595,1)" font-family="'Liberation Sans', Arial, Helvetica, sans-serif" font-size="62.9" stroke="#000" stroke-width="1.5" stroke-linejoin="round" xml:space="preserve">S:  37%</text>
<polygon points="1979.1,2811.2 1979.1,2750.0 1990.0,2750.0 1990.0,2685.9 2000.0,2685.9 2000.0,2622.5 2011.9,2622.5 2011.9,2587.5 2022.2,2587.5 2022.2,2570.3 2025.0,2570.3 2025.0,2593.8 2033.8,2593.8 2033.8,2667.2 2044.7,2667.2 2044.7,2739.7 2055.0,2739.7 2055.0,2776.6 2065.6,2776.6 2065.6,2790.6 2082.2,2790.6 2082.2,2800.0 2091.6,2800.0 2091.6,2790.6 2104.1,2790.6 2104.1,2781.2 2115.0,2781.2 2115.0,2776.6 2119.7,2776.6 2119.7,2750.0 2131.2,2750.0 2131.2,2704.7 2142.2,2704.7 2142.2,2614.1 2152.5,2614.1 2152.5,2485.0 2162.8,2485.0 2162.8,2357.2 2173.8,2357.2 2173.8,2247.8 2184.7,2247.8 2184.7,2147.8 2194.7,2147.8 2194.7,2096.2 2207.2,2096.2 2207.2,2147.8 2217.5,2147.8 2217.5,2283.8 2228.4,2283.8 2228.4,2439.4 2239.1,2439.4 2239.1,2593.8 2249.4,2593.8 2249.4,2703.1 2260.3,2703.1 2260.3,2757.8 2271.2,2757.8 2271.2,2776.6 2282.2,2776.6 2282.2,2795.3 2288.4,2795.3 2288.4,2799.4 2341.6,2799.4 2341.6,2807.8 2363.4,2807.8 2363.4,2799.4 2374.4,2799.4 2374.4,2789.1 2385.3,2789.1 2385.3,2799.4 2407.2,2799.4 2407.2,2790.0 2418.1,2790.0 2418.1,2771.9 2452.5,2771.9 2452.5,2762.5 2462.5,2762.5 2462.5,2814.1" fill="#c0c0c0"/>
<rect x="1973.9" y="2746.5" width="10.3" height="68.2" fill="#000"/>
<rect x="1973.9" y="2746.5" width="21.2" height="7.0" fill="#000"/>
<rect x="1984.8" y="2682.4" width="10.3" height="71.1" fill="#000"/>
<rect x="1984.8" y="2682.4" width="20.3" height="7.0" fill="#000"/>
<rect x="1994.8" y="2619.0" width="10.3" height="70.4" fill="#000"/>
<rect x="1994.8" y="2619.0" width="22.2" height="7.0" fill="#000"/>
<rect x="2006.7" y="2584.0" width="10.3" height="42.0" fill="#000"/>
<rect x="2006.7" y="2584.0" width="20.6" height="7.0" fill="#000"/>
<rect x="2017.0" y="2566.8" width="10.3" height="24.2" fill="#000"/>
<rect x="2017.0" y="2566.8" width="13.1" height="7.0" fill="#000"/>
<rect x="2019.8" y="2566.8" width="10.3" height="30.4" fill="#000"/>
<rect x="2019.8" y="2590.2" width="19.1" height="7.0" fill="#000"/>
<rect x="2028.6" y="2590.2" width="10.3" height="80.4" fill="#000"/>
<rect x="2028.6" y="2663.7" width="21.2" height="7.0" fill="#000"/>
<rect x="2039.5" y="2663.7" width="10.3" height="79.5" fill="#000"/>
<rect x="2039.5" y="2736.2" width="20.6" height="7.0" fill="#000"/>
<rect x="2049.8" y="2736.2" width="10.3" height="43.9" fill="#000"/>
<rect x="2049.8" y="2773.1" width="20.9" height="7.0" fill="#000"/>
<rect x="2060.5" y="2773.1" width="10.3" height="21.1" fill="#000"/>
<rect x="2060.5" y="2787.1" width="26.9" height="7.0" fill="#000"/>
<rect x="2077.0" y="2787.1" width="10.3" height="16.4" fill="#000"/>
<rect x="2077.0" y="2796.5" width="19.7" height="7.0" fill="#000"/>
<rect x="2086.4" y="2787.1" width="10.3" height="16.4" fill="#000"/>
<rect x="2086.4" y="2787.1" width="22.8" height="7.0" fill="#000"/>
<rect x="2098.9" y="2777.8" width="10.3" height="16.4" fill="#000"/>
<rect x="2098.9" y="2777.8" width="21.2" height="7.0" fill="#000"/>
<rect x="2109.8" y="2773.1" width="10.3" height="11.7" fill="#000"/>
<rect x="2109.8" y="2773.1" width="15.0" height="7.0" fill="#000"/>
<rect x="2114.5" y="2746.5" width="10.3" height="33.6" fill="#000"/>
<rect x="2114.5" y="2746.5" width="21.9" height="7.0" fill="#000"/>
<rect x="2126.1" y="2701.2" width="10.3" height="52.3" fill="#000"/>
<rect x="2126.1" y="2701.2" width="21.2" height="7.0" fill="#000"/>
<rect x="2137.0" y="2610.6" width="10.3" height="97.6" fill="#000"/>
<rect x="2137.0" y="2610.6" width="20.6" height="7.0" fill="#000"/>
<rect x="2147.3" y="2481.5" width="10.3" height="136.1" fill="#000"/>
<rect x="2147.3" y="2481.5" width="20.6" height="7.0" fill="#000"/>
<rect x="2157.7" y="2353.7" width="10.3" height="134.8" fill="#000"/>
<rect x="2157.7" y="2353.7" width="21.2" height="7.0" fill="#000"/>
<rect x="2168.6" y="2244.3" width="10.3" height="116.4" fill="#000"/>
<rect x="2168.6" y="2244.3" width="21.2" height="7.0" fill="#000"/>
<rect x="2179.5" y="2144.3" width="10.3" height="107.0" fill="#000"/>
<rect x="2179.5" y="2144.3" width="20.3" height="7.0" fill="#000"/>
<rect x="2189.5" y="2092.8" width="10.3" height="58.6" fill="#000"/>
<rect x="2189.5" y="2092.8" width="22.8" height="7.0" fill="#000"/>
<rect x="2202.0" y="2092.8" width="10.3" height="58.6" fill="#000"/>
<rect x="2202.0" y="2144.3" width="20.6" height="7.0" fill="#000"/>
<rect x="2212.3" y="2144.3" width="10.3" height="142.9" fill="#000"/>
<rect x="2212.3" y="2280.2" width="21.2" height="7.0" fill="#000"/>
<rect x="2223.3" y="2280.2" width="10.3" height="162.6" fill="#000"/>
<rect x="2223.3" y="2435.9" width="20.9" height="7.0" fill="#000"/>
<rect x="2233.9" y="2435.9" width="10.3" height="161.4" fill="#000"/>
<rect x="2233.9" y="2590.2" width="20.6" height="7.0" fill="#000"/>
<rect x="2244.2" y="2590.2" width="10.3" height="116.4" fill="#000"/>
<rect x="2244.2" y="2699.6" width="21.2" height="7.0" fill="#000"/>
<rect x="2255.2" y="2699.6" width="10.3" height="61.7" fill="#000"/>
<rect x="2255.2" y="2754.3" width="21.2" height="7.0" fill="#000"/>
<rect x="2266.1" y="2754.3" width="10.3" height="25.8" fill="#000"/>
<rect x="2266.1" y="2773.1" width="21.2" height="7.0" fill="#000"/>
<rect x="2277.0" y="2773.1" width="10.3" height="25.8" fill="#000"/>
<rect x="2277.0" y="2791.8" width="16.6" height="7.0" fill="#000"/>
<rect x="2283.3" y="2791.8" width="10.3" height="11.1" fill="#000"/>
<rect x="2283.3" y="2795.9" width="63.4" height="7.0" fill="#000"/>
<rect x="2336.4" y="2795.9" width="10.3" height="15.4" fill="#000"/>
<rect x="2336.4" y="2804.3" width="32.2" height="7.0" fill="#000"/>
<rect x="2358.3" y="2795.9" width="10.3" height="15.4" fill="#000"/>
<rect x="2358.3" y="2795.9" width="21.2" height="7.0" fill="#000"/>
<rect x="2369.2" y="2785.6" width="10.3" height="17.3" fill="#000"/>
<rect x="2369.2" y="2785.6" width="21.2" height="7.0" fill="#000"/>
<rect x="2380.2" y="2785.6" width="10.3" height="17.3" fill="#000"/>
<rect x="2380.2" y="2795.9" width="32.2" height="7.0" fill="#000"/>
<rect x="2402.0" y="2786.5" width="10.3" height="16.4" fill="#000"/>
<rect x="2402.0" y="2786.5" width="21.2" height="7.0" fill="#000"/>
<rect x="2413.0" y="2768.4" width="10.3" height="25.1" fill="#000"/>
<rect x="2413.0" y="2768.4" width="44.7" height="7.0" fill="#000"/>
<rect x="2447.3" y="2759.0" width="10.3" height="16.4" fill="#000"/>
<rect x="2447.3" y="2759.0" width="17.2" height="7.0" fill="#000"/>
<rect x="2189.375" y="2092.5" width="23.125" height="55.3125" fill="#000"/>
<rect x="1927.5" y="2804.0625" width="12.5" height="9.375" fill="#000"/>
<rect x="1952.5" y="2803.125" width="12.5" height="10.0" fill="#000"/>
<rect x="1963.4375" y="2795.3125" width="10.9375" height="18.125" fill="#000"/>
<rect x="2341.5625" y="2803.75" width="21.875" height="9.375" fill="#000"/>
<rect x="1927.8" y="1835.3" width="536.5" height="979.3" fill="none" stroke="#000" stroke-width="3.6"/>
<text transform="translate(1986.27,1898.60) scale(0.9402,1)" font-family="'Liberation Sans', Arial, Helvetica, sans-serif" font-size="62.9" stroke="#000" stroke-width="1.5" stroke-linejoin="round" xml:space="preserve">FKA</text>
<text transform="translate(2134.22,1898.60) scale(1.0562,1)" font-family="'Liberation Sans', Arial, Helvetica, sans-serif" font-size="62.9" stroke="#000" stroke-width="1.5" stroke-linejoin="round" xml:space="preserve">16</text>
<text transform="translate(2204.59,1898.60) scale(1.0435,1)" font-family="'Liberation Serif', 'Times New Roman', serif" font-size="72" xml:space="preserve">μM</text>
<text transform="translate(2323.31,1898.60) scale(1.0766,1)" font-family="'Liberation Sans', Arial, Helvetica, sans-serif" font-size="62.9" stroke="#000" stroke-width="1.5" stroke-linejoin="round" xml:space="preserve">24h</text>
<rect x="1988" y="1905.7" width="447" height="5" fill="#000"/>
<text transform="translate(2178.88,1982.50) scale(0.9928,1)" font-family="'Liberation Sans', Arial, Helvetica, sans-serif" font-size="62.9" stroke="#000" stroke-width="1.5" stroke-linejoin="round" xml:space="preserve">G1: 24%</text>
<text transform="translate(2132.49,2068.00) scale(1.0221,1)" font-family="'Liberation Sans', Arial, Helvetica, sans-serif" font-size="62.9" stroke="#000" stroke-width="1.5" stroke-linejoin="round" xml:space="preserve">G2M: 10%</text>
<text transform="translate(2227.69,2152.00) scale(0.9564,1)" font-family="'Liberation Sans', Arial, Helvetica, sans-serif" font-size="62.9" stroke="#000" stroke-width="1.5" stroke-linejoin="round" xml:space="preserve">S: 66%</text>
</svg>
</body>
</html>
